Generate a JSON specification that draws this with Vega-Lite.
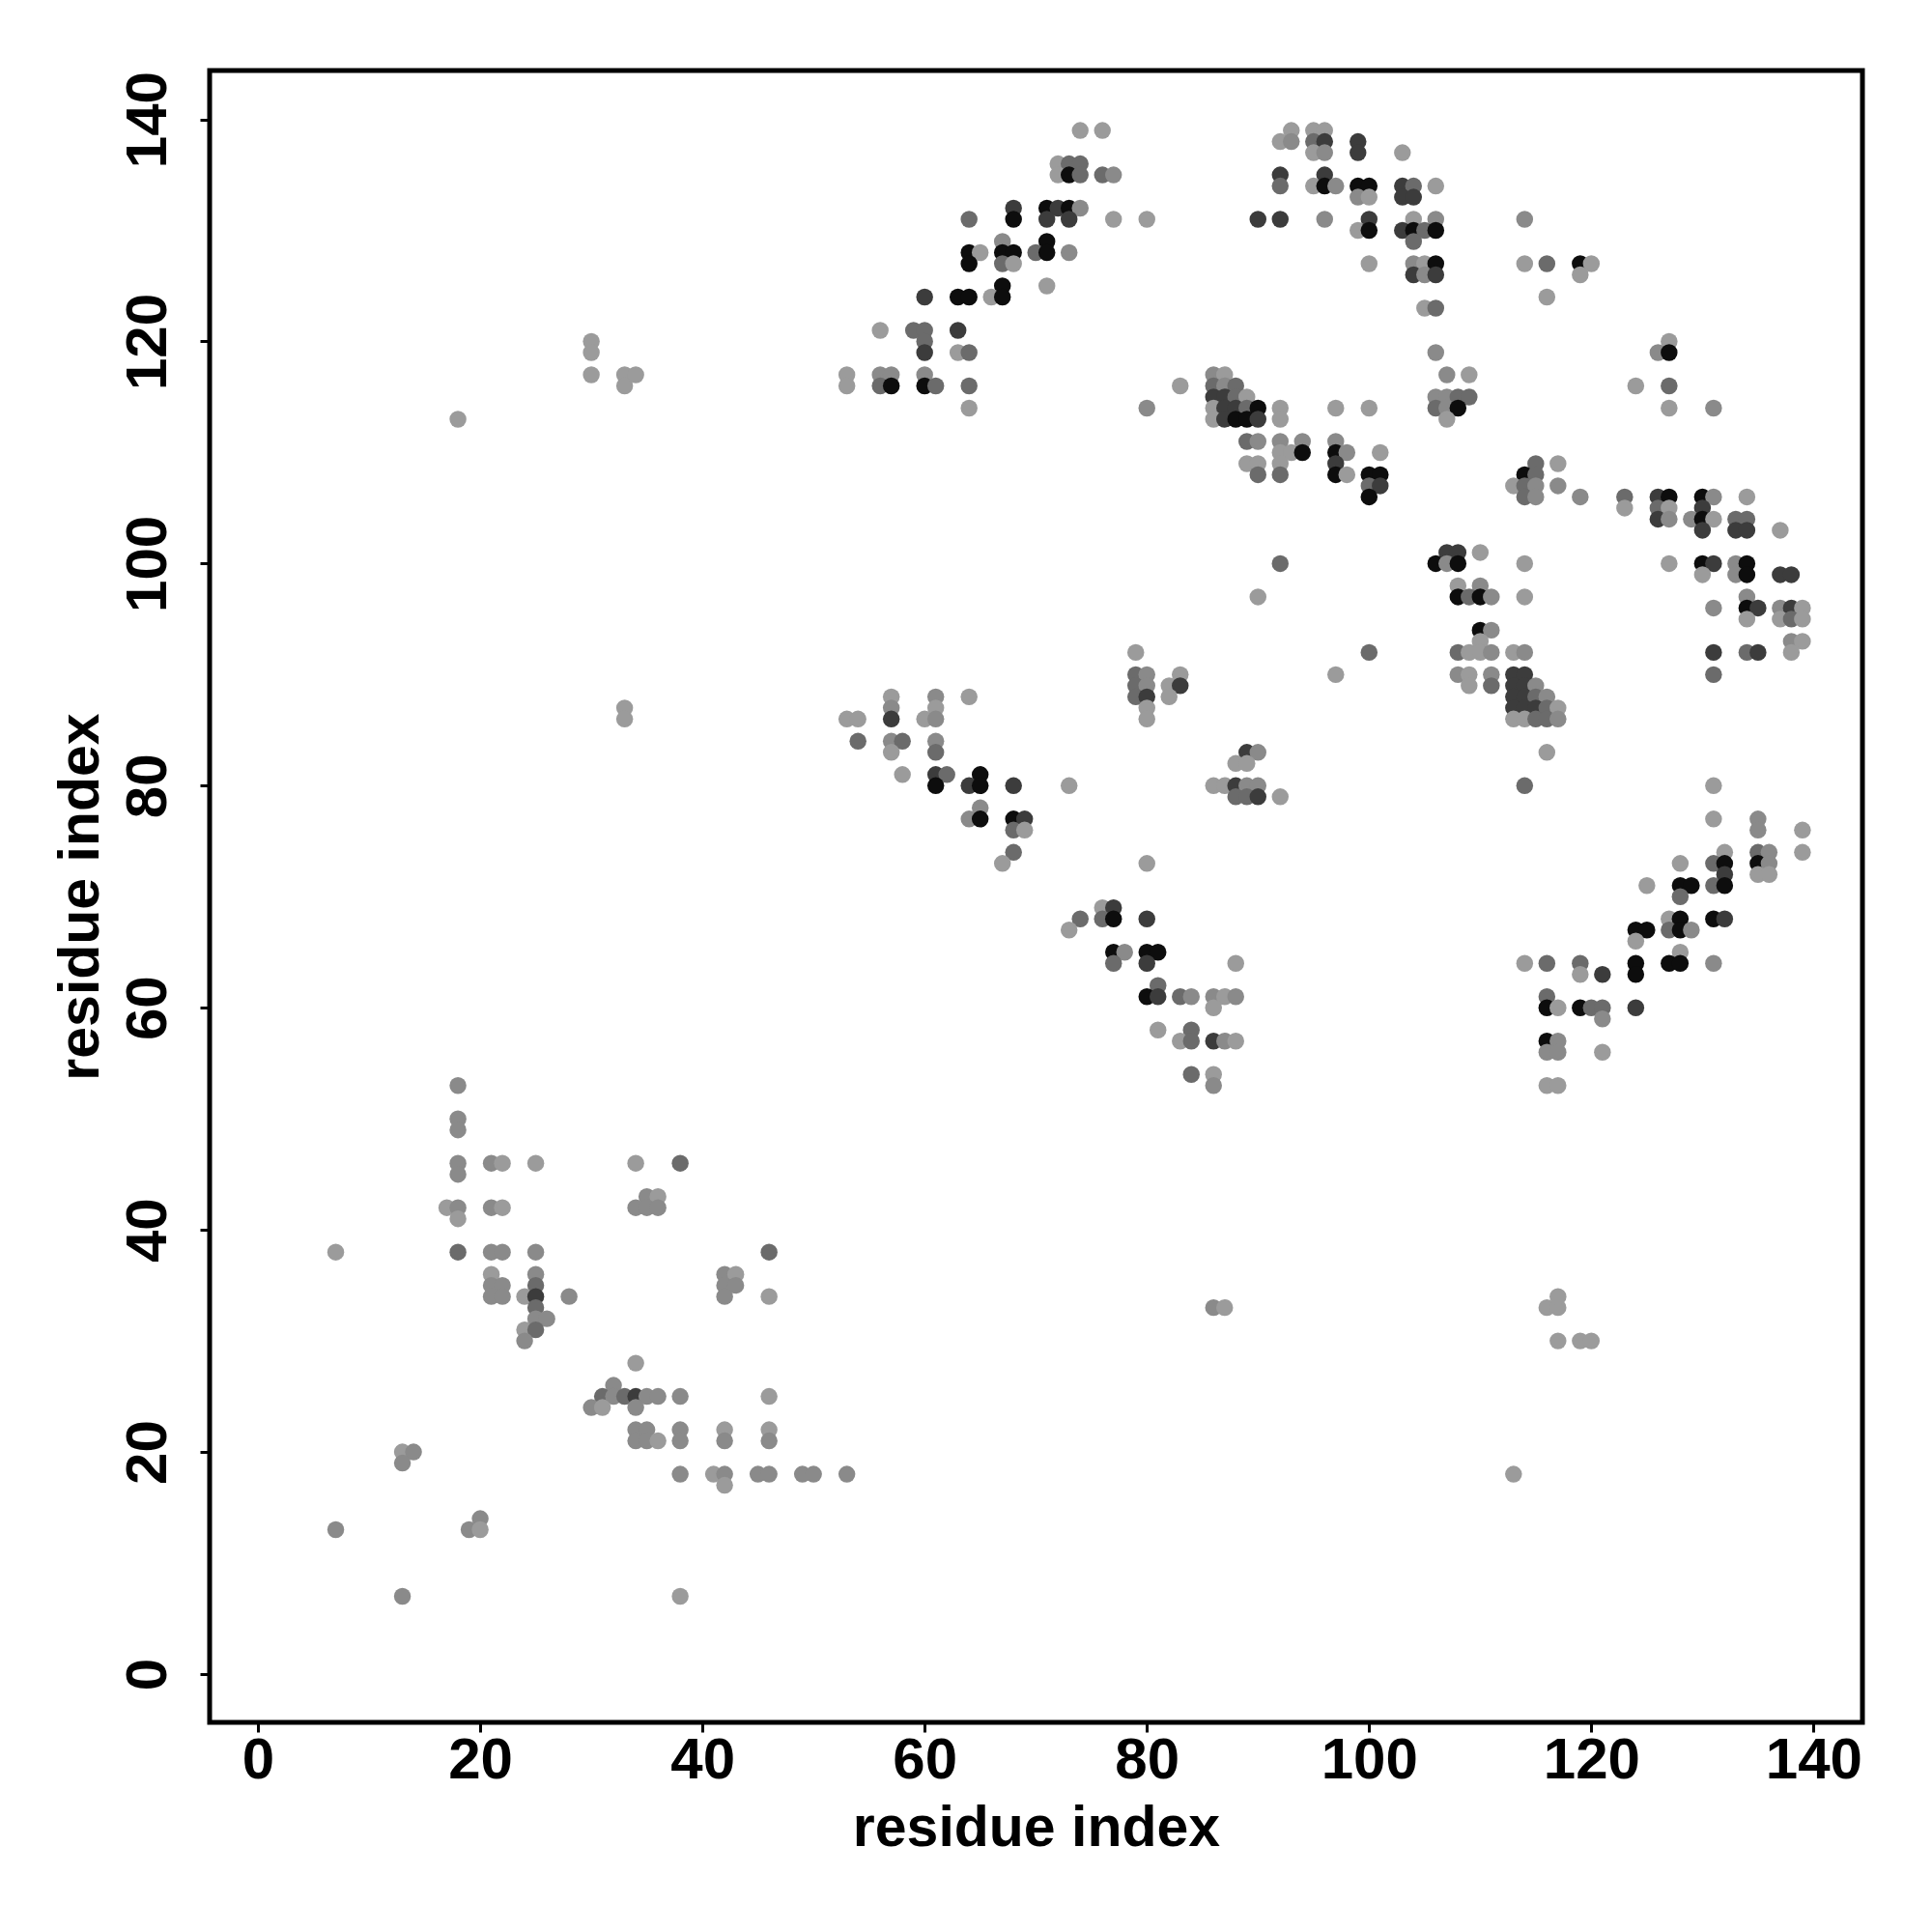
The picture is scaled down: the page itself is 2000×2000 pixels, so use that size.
{
  "$schema": "https://vega.github.io/schema/vega-lite/v6.json",
  "width": 1711,
  "height": 1710,
  "autosize": {"type": "none"},
  "padding": {"left": 217, "top": 73, "right": 72, "bottom": 217},
  "background": "white",
  "config": {"view": {"stroke": "black", "strokeWidth": 5}},
  "data": {"values": [
    {"x":74,"y":139,"c":"L"},{"x":76,"y":139,"c":"L"},
    {"x":72,"y":136,"c":"L"},{"x":73,"y":136,"c":"M"},{"x":74,"y":136,"c":"M"},
    {"x":72,"y":135,"c":"L"},{"x":73,"y":135,"c":"K"},{"x":74,"y":135,"c":"M"},{"x":76,"y":135,"c":"M"},{"x":77,"y":135,"c":"G"},
    {"x":68,"y":132,"c":"D"},{"x":71,"y":132,"c":"K"},{"x":72,"y":132,"c":"D"},{"x":73,"y":132,"c":"K"},{"x":74,"y":132,"c":"G"},
    {"x":64,"y":131,"c":"M"},{"x":68,"y":131,"c":"K"},{"x":71,"y":131,"c":"D"},{"x":73,"y":131,"c":"D"},{"x":77,"y":131,"c":"L"},{"x":80,"y":131,"c":"L"},
    {"x":67,"y":129,"c":"G"},{"x":71,"y":129,"c":"K"},
    {"x":64,"y":128,"c":"K"},{"x":65,"y":128,"c":"L"},{"x":67,"y":128,"c":"K"},{"x":68,"y":128,"c":"K"},{"x":70,"y":128,"c":"M"},{"x":71,"y":128,"c":"K"},{"x":73,"y":128,"c":"G"},
    {"x":64,"y":127,"c":"K"},{"x":67,"y":127,"c":"M"},{"x":68,"y":127,"c":"L"},
    {"x":67,"y":125,"c":"K"},{"x":71,"y":125,"c":"L"},
    {"x":60,"y":124,"c":"D"},{"x":63,"y":124,"c":"K"},{"x":64,"y":124,"c":"K"},{"x":66,"y":124,"c":"L"},{"x":67,"y":124,"c":"K"},
    {"x":56,"y":121,"c":"L"},{"x":59,"y":121,"c":"M"},{"x":60,"y":121,"c":"M"},{"x":63,"y":121,"c":"D"},
    {"x":60,"y":120,"c":"M"},
    {"x":60,"y":119,"c":"D"},{"x":63,"y":119,"c":"L"},{"x":64,"y":119,"c":"M"},
    {"x":53,"y":117,"c":"L"},{"x":56,"y":117,"c":"G"},{"x":57,"y":117,"c":"G"},{"x":60,"y":117,"c":"G"},
    {"x":53,"y":116,"c":"L"},{"x":56,"y":116,"c":"M"},{"x":57,"y":116,"c":"K"},{"x":60,"y":116,"c":"K"},{"x":61,"y":116,"c":"M"},{"x":64,"y":116,"c":"M"},{"x":83,"y":116,"c":"L"},
    {"x":64,"y":114,"c":"L"},{"x":80,"y":114,"c":"G"},
    {"x":93,"y":139,"c":"L"},{"x":95,"y":139,"c":"L"},{"x":96,"y":139,"c":"L"},
    {"x":92,"y":138,"c":"L"},{"x":93,"y":138,"c":"G"},{"x":95,"y":138,"c":"M"},{"x":96,"y":138,"c":"D"},{"x":99,"y":138,"c":"D"},
    {"x":95,"y":137,"c":"L"},{"x":96,"y":137,"c":"G"},{"x":99,"y":137,"c":"D"},{"x":103,"y":137,"c":"L"},
    {"x":92,"y":135,"c":"D"},{"x":96,"y":135,"c":"D"},
    {"x":92,"y":134,"c":"M"},{"x":95,"y":134,"c":"L"},{"x":96,"y":134,"c":"K"},{"x":97,"y":134,"c":"G"},{"x":99,"y":134,"c":"K"},{"x":100,"y":134,"c":"K"},{"x":103,"y":134,"c":"D"},{"x":104,"y":134,"c":"M"},{"x":106,"y":134,"c":"L"},
    {"x":99,"y":133,"c":"G"},{"x":100,"y":133,"c":"L"},{"x":103,"y":133,"c":"D"},{"x":104,"y":133,"c":"D"},
    {"x":90,"y":131,"c":"D"},{"x":92,"y":131,"c":"D"},{"x":96,"y":131,"c":"G"},{"x":100,"y":131,"c":"D"},{"x":104,"y":131,"c":"L"},{"x":106,"y":131,"c":"G"},
    {"x":99,"y":130,"c":"L"},{"x":100,"y":130,"c":"K"},{"x":103,"y":130,"c":"D"},{"x":104,"y":130,"c":"K"},{"x":105,"y":130,"c":"M"},{"x":106,"y":130,"c":"K"},
    {"x":104,"y":129,"c":"M"},
    {"x":100,"y":127,"c":"L"},{"x":104,"y":127,"c":"G"},{"x":105,"y":127,"c":"L"},{"x":106,"y":127,"c":"K"},
    {"x":104,"y":126,"c":"D"},{"x":105,"y":126,"c":"G"},{"x":106,"y":126,"c":"D"},
    {"x":105,"y":123,"c":"L"},{"x":106,"y":123,"c":"M"},
    {"x":106,"y":119,"c":"G"},
    {"x":107,"y":117,"c":"G"},{"x":109,"y":117,"c":"L"},
    {"x":106,"y":115,"c":"G"},{"x":107,"y":115,"c":"G"},{"x":108,"y":115,"c":"M"},{"x":109,"y":115,"c":"M"},
    {"x":106,"y":114,"c":"M"},{"x":107,"y":114,"c":"G"},{"x":108,"y":114,"c":"K"},
    {"x":107,"y":113,"c":"L"},
    {"x":86,"y":117,"c":"G"},{"x":87,"y":117,"c":"L"},
    {"x":86,"y":116,"c":"M"},{"x":87,"y":116,"c":"G"},{"x":88,"y":116,"c":"M"},
    {"x":86,"y":115,"c":"D"},{"x":87,"y":115,"c":"D"},{"x":88,"y":115,"c":"M"},{"x":89,"y":115,"c":"L"},
    {"x":86,"y":114,"c":"L"},{"x":87,"y":114,"c":"D"},{"x":88,"y":114,"c":"D"},{"x":89,"y":114,"c":"M"},{"x":90,"y":114,"c":"K"},{"x":92,"y":114,"c":"L"},{"x":97,"y":114,"c":"L"},{"x":100,"y":114,"c":"L"},
    {"x":86,"y":113,"c":"L"},{"x":87,"y":113,"c":"D"},{"x":88,"y":113,"c":"K"},{"x":89,"y":113,"c":"K"},{"x":90,"y":113,"c":"D"},{"x":92,"y":113,"c":"L"},
    {"x":89,"y":111,"c":"M"},{"x":90,"y":111,"c":"G"},{"x":92,"y":111,"c":"G"},{"x":94,"y":111,"c":"G"},{"x":97,"y":111,"c":"G"},
    {"x":92,"y":110,"c":"L"},{"x":93,"y":110,"c":"L"},{"x":94,"y":110,"c":"K"},{"x":97,"y":110,"c":"K"},{"x":98,"y":110,"c":"G"},{"x":101,"y":110,"c":"L"},
    {"x":89,"y":109,"c":"L"},{"x":90,"y":109,"c":"L"},{"x":92,"y":109,"c":"L"},{"x":97,"y":109,"c":"D"},
    {"x":90,"y":108,"c":"M"},{"x":92,"y":108,"c":"M"},{"x":97,"y":108,"c":"K"},{"x":98,"y":108,"c":"L"},{"x":100,"y":108,"c":"K"},{"x":101,"y":108,"c":"K"},
    {"x":100,"y":107,"c":"M"},{"x":101,"y":107,"c":"D"},
    {"x":100,"y":106,"c":"K"},
    {"x":114,"y":131,"c":"G"},
    {"x":114,"y":127,"c":"L"},{"x":116,"y":127,"c":"M"},{"x":119,"y":127,"c":"K"},{"x":120,"y":127,"c":"L"},
    {"x":119,"y":126,"c":"L"},
    {"x":116,"y":124,"c":"L"},
    {"x":127,"y":120,"c":"L"},
    {"x":126,"y":119,"c":"G"},{"x":127,"y":119,"c":"K"},
    {"x":124,"y":116,"c":"L"},{"x":127,"y":116,"c":"M"},
    {"x":127,"y":114,"c":"L"},{"x":131,"y":114,"c":"G"},
    {"x":115,"y":109,"c":"M"},{"x":117,"y":109,"c":"L"},
    {"x":114,"y":108,"c":"K"},{"x":115,"y":108,"c":"M"},
    {"x":113,"y":107,"c":"L"},{"x":114,"y":107,"c":"M"},{"x":115,"y":107,"c":"G"},{"x":117,"y":107,"c":"G"},
    {"x":114,"y":106,"c":"M"},{"x":115,"y":106,"c":"G"},{"x":119,"y":106,"c":"G"},{"x":123,"y":106,"c":"M"},{"x":126,"y":106,"c":"D"},{"x":127,"y":106,"c":"K"},{"x":130,"y":106,"c":"K"},{"x":131,"y":106,"c":"G"},{"x":134,"y":106,"c":"L"},
    {"x":123,"y":105,"c":"L"},{"x":126,"y":105,"c":"M"},{"x":127,"y":105,"c":"L"},{"x":130,"y":105,"c":"D"},
    {"x":126,"y":104,"c":"D"},{"x":127,"y":104,"c":"G"},{"x":129,"y":104,"c":"G"},{"x":130,"y":104,"c":"K"},{"x":131,"y":104,"c":"L"},{"x":133,"y":104,"c":"M"},{"x":134,"y":104,"c":"M"},
    {"x":130,"y":103,"c":"D"},{"x":133,"y":103,"c":"D"},{"x":134,"y":103,"c":"D"},{"x":137,"y":103,"c":"L"},
    {"x":107,"y":101,"c":"D"},{"x":108,"y":101,"c":"D"},{"x":110,"y":101,"c":"L"},
    {"x":92,"y":100,"c":"M"},{"x":106,"y":100,"c":"K"},{"x":107,"y":100,"c":"G"},{"x":108,"y":100,"c":"K"},{"x":114,"y":100,"c":"L"},{"x":127,"y":100,"c":"L"},{"x":130,"y":100,"c":"K"},{"x":131,"y":100,"c":"D"},{"x":133,"y":100,"c":"G"},{"x":134,"y":100,"c":"K"},
    {"x":130,"y":99,"c":"L"},{"x":133,"y":99,"c":"G"},{"x":134,"y":99,"c":"K"},{"x":137,"y":99,"c":"D"},{"x":138,"y":99,"c":"D"},
    {"x":108,"y":98,"c":"L"},{"x":110,"y":98,"c":"G"},
    {"x":90,"y":97,"c":"L"},{"x":108,"y":97,"c":"K"},{"x":109,"y":97,"c":"M"},{"x":110,"y":97,"c":"K"},{"x":111,"y":97,"c":"G"},{"x":114,"y":97,"c":"L"},{"x":134,"y":97,"c":"G"},
    {"x":131,"y":96,"c":"G"},{"x":134,"y":96,"c":"K"},{"x":135,"y":96,"c":"D"},{"x":137,"y":96,"c":"G"},{"x":138,"y":96,"c":"D"},{"x":139,"y":96,"c":"L"},
    {"x":134,"y":95,"c":"L"},{"x":137,"y":95,"c":"L"},{"x":138,"y":95,"c":"M"},{"x":139,"y":95,"c":"L"},
    {"x":110,"y":94,"c":"K"},{"x":111,"y":94,"c":"G"},
    {"x":110,"y":93,"c":"L"},{"x":138,"y":93,"c":"G"},{"x":139,"y":93,"c":"L"},
    {"x":100,"y":92,"c":"M"},{"x":108,"y":92,"c":"M"},{"x":109,"y":92,"c":"L"},{"x":110,"y":92,"c":"L"},{"x":111,"y":92,"c":"G"},{"x":113,"y":92,"c":"L"},{"x":114,"y":92,"c":"G"},{"x":131,"y":92,"c":"D"},{"x":134,"y":92,"c":"M"},{"x":135,"y":92,"c":"D"},{"x":138,"y":92,"c":"L"},
    {"x":97,"y":90,"c":"L"},{"x":108,"y":90,"c":"G"},{"x":109,"y":90,"c":"L"},{"x":111,"y":90,"c":"G"},{"x":113,"y":90,"c":"D"},{"x":114,"y":90,"c":"D"},{"x":131,"y":90,"c":"M"},
    {"x":109,"y":89,"c":"L"},{"x":111,"y":89,"c":"M"},{"x":113,"y":89,"c":"D"},{"x":114,"y":89,"c":"D"},{"x":115,"y":89,"c":"G"},
    {"x":113,"y":88,"c":"D"},{"x":114,"y":88,"c":"D"},{"x":115,"y":88,"c":"M"},{"x":116,"y":88,"c":"G"},
    {"x":113,"y":87,"c":"D"},{"x":114,"y":87,"c":"D"},{"x":115,"y":87,"c":"D"},{"x":116,"y":87,"c":"M"},{"x":117,"y":87,"c":"L"},
    {"x":113,"y":86,"c":"L"},{"x":114,"y":86,"c":"L"},{"x":115,"y":86,"c":"M"},{"x":116,"y":86,"c":"M"},{"x":117,"y":86,"c":"G"},
    {"x":79,"y":92,"c":"L"},
    {"x":79,"y":90,"c":"M"},{"x":80,"y":90,"c":"G"},{"x":83,"y":90,"c":"L"},
    {"x":79,"y":89,"c":"M"},{"x":80,"y":89,"c":"G"},{"x":82,"y":89,"c":"L"},{"x":83,"y":89,"c":"D"},
    {"x":57,"y":88,"c":"L"},{"x":61,"y":88,"c":"G"},{"x":64,"y":88,"c":"L"},{"x":79,"y":88,"c":"M"},{"x":80,"y":88,"c":"D"},{"x":82,"y":88,"c":"L"},
    {"x":57,"y":87,"c":"G"},{"x":61,"y":87,"c":"L"},{"x":80,"y":87,"c":"L"},
    {"x":53,"y":86,"c":"L"},{"x":54,"y":86,"c":"L"},{"x":57,"y":86,"c":"D"},{"x":60,"y":86,"c":"L"},{"x":61,"y":86,"c":"G"},{"x":80,"y":86,"c":"L"},
    {"x":54,"y":84,"c":"M"},{"x":57,"y":84,"c":"G"},{"x":58,"y":84,"c":"M"},{"x":61,"y":84,"c":"G"},
    {"x":57,"y":83,"c":"L"},{"x":61,"y":83,"c":"M"},
    {"x":58,"y":81,"c":"L"},{"x":61,"y":81,"c":"D"},{"x":62,"y":81,"c":"M"},{"x":65,"y":81,"c":"K"},
    {"x":61,"y":80,"c":"K"},{"x":64,"y":80,"c":"D"},{"x":65,"y":80,"c":"K"},{"x":68,"y":80,"c":"D"},{"x":73,"y":80,"c":"L"},
    {"x":65,"y":78,"c":"G"},
    {"x":64,"y":77,"c":"G"},{"x":65,"y":77,"c":"K"},{"x":68,"y":77,"c":"K"},{"x":69,"y":77,"c":"D"},
    {"x":68,"y":76,"c":"M"},{"x":69,"y":76,"c":"L"},
    {"x":68,"y":74,"c":"M"},
    {"x":67,"y":73,"c":"L"},{"x":80,"y":73,"c":"L"},
    {"x":89,"y":83,"c":"D"},{"x":90,"y":83,"c":"G"},
    {"x":88,"y":82,"c":"L"},{"x":89,"y":82,"c":"L"},
    {"x":86,"y":80,"c":"L"},{"x":87,"y":80,"c":"L"},{"x":88,"y":80,"c":"D"},{"x":89,"y":80,"c":"G"},{"x":90,"y":80,"c":"G"},
    {"x":88,"y":79,"c":"M"},{"x":89,"y":79,"c":"M"},{"x":90,"y":79,"c":"D"},{"x":92,"y":79,"c":"L"},
    {"x":76,"y":69,"c":"L"},{"x":77,"y":69,"c":"D"},
    {"x":74,"y":68,"c":"M"},{"x":76,"y":68,"c":"M"},{"x":77,"y":68,"c":"K"},{"x":80,"y":68,"c":"D"},
    {"x":73,"y":67,"c":"L"},
    {"x":77,"y":65,"c":"K"},{"x":78,"y":65,"c":"G"},{"x":80,"y":65,"c":"K"},{"x":81,"y":65,"c":"K"},
    {"x":77,"y":64,"c":"M"},{"x":80,"y":64,"c":"D"},{"x":88,"y":64,"c":"L"},
    {"x":81,"y":62,"c":"M"},
    {"x":80,"y":61,"c":"K"},{"x":81,"y":61,"c":"D"},{"x":83,"y":61,"c":"M"},{"x":84,"y":61,"c":"G"},{"x":86,"y":61,"c":"G"},{"x":87,"y":61,"c":"L"},{"x":88,"y":61,"c":"G"},
    {"x":86,"y":60,"c":"L"},
    {"x":81,"y":58,"c":"L"},{"x":84,"y":58,"c":"M"},
    {"x":83,"y":57,"c":"L"},{"x":84,"y":57,"c":"M"},{"x":86,"y":57,"c":"D"},{"x":87,"y":57,"c":"G"},{"x":88,"y":57,"c":"L"},
    {"x":84,"y":54,"c":"M"},{"x":86,"y":54,"c":"L"},
    {"x":86,"y":53,"c":"G"},
    {"x":116,"y":83,"c":"L"},
    {"x":114,"y":80,"c":"M"},{"x":131,"y":80,"c":"L"},
    {"x":131,"y":77,"c":"L"},{"x":135,"y":77,"c":"G"},
    {"x":135,"y":76,"c":"G"},{"x":139,"y":76,"c":"L"},
    {"x":132,"y":74,"c":"L"},{"x":135,"y":74,"c":"M"},{"x":136,"y":74,"c":"G"},{"x":139,"y":74,"c":"L"},
    {"x":128,"y":73,"c":"L"},{"x":131,"y":73,"c":"M"},{"x":132,"y":73,"c":"K"},{"x":135,"y":73,"c":"K"},{"x":136,"y":73,"c":"G"},
    {"x":132,"y":72,"c":"D"},{"x":135,"y":72,"c":"L"},{"x":136,"y":72,"c":"L"},
    {"x":125,"y":71,"c":"L"},{"x":128,"y":71,"c":"K"},{"x":129,"y":71,"c":"K"},{"x":131,"y":71,"c":"M"},{"x":132,"y":71,"c":"K"},
    {"x":128,"y":70,"c":"M"},
    {"x":127,"y":68,"c":"L"},{"x":128,"y":68,"c":"K"},{"x":131,"y":68,"c":"K"},{"x":132,"y":68,"c":"D"},
    {"x":124,"y":67,"c":"K"},{"x":125,"y":67,"c":"K"},{"x":127,"y":67,"c":"M"},{"x":128,"y":67,"c":"K"},{"x":129,"y":67,"c":"G"},
    {"x":124,"y":66,"c":"L"},
    {"x":128,"y":65,"c":"L"},
    {"x":114,"y":64,"c":"L"},{"x":116,"y":64,"c":"M"},{"x":119,"y":64,"c":"M"},{"x":124,"y":64,"c":"K"},{"x":127,"y":64,"c":"K"},{"x":128,"y":64,"c":"K"},{"x":131,"y":64,"c":"G"},
    {"x":119,"y":63,"c":"L"},{"x":121,"y":63,"c":"D"},{"x":124,"y":63,"c":"K"},
    {"x":116,"y":61,"c":"M"},
    {"x":116,"y":60,"c":"K"},{"x":117,"y":60,"c":"L"},{"x":119,"y":60,"c":"K"},{"x":120,"y":60,"c":"M"},{"x":121,"y":60,"c":"M"},{"x":124,"y":60,"c":"D"},
    {"x":121,"y":59,"c":"G"},
    {"x":116,"y":57,"c":"K"},{"x":117,"y":57,"c":"G"},
    {"x":116,"y":56,"c":"G"},{"x":117,"y":56,"c":"G"},{"x":121,"y":56,"c":"L"},
    {"x":116,"y":53,"c":"L"},{"x":117,"y":53,"c":"L"},
    {"x":18,"y":53,"c":"G"},{"x":18,"y":50,"c":"G"},{"x":18,"y":49,"c":"G"},
    {"x":18,"y":46,"c":"G"},{"x":21,"y":46,"c":"G"},{"x":22,"y":46,"c":"L"},{"x":25,"y":46,"c":"L"},{"x":34,"y":46,"c":"L"},{"x":38,"y":46,"c":"M"},
    {"x":18,"y":45,"c":"G"},
    {"x":35,"y":43,"c":"G"},{"x":36,"y":43,"c":"L"},
    {"x":17,"y":42,"c":"L"},{"x":18,"y":42,"c":"G"},{"x":21,"y":42,"c":"G"},{"x":22,"y":42,"c":"L"},{"x":34,"y":42,"c":"G"},{"x":35,"y":42,"c":"G"},{"x":36,"y":42,"c":"G"},
    {"x":18,"y":41,"c":"L"},
    {"x":7,"y":38,"c":"L"},{"x":18,"y":38,"c":"M"},{"x":21,"y":38,"c":"G"},{"x":22,"y":38,"c":"G"},{"x":25,"y":38,"c":"G"},{"x":46,"y":38,"c":"M"},
    {"x":21,"y":36,"c":"L"},{"x":25,"y":36,"c":"G"},{"x":42,"y":36,"c":"G"},{"x":43,"y":36,"c":"L"},
    {"x":21,"y":35,"c":"G"},{"x":22,"y":35,"c":"G"},{"x":25,"y":35,"c":"M"},{"x":42,"y":35,"c":"G"},{"x":43,"y":35,"c":"G"},
    {"x":21,"y":34,"c":"G"},{"x":22,"y":34,"c":"G"},{"x":24,"y":34,"c":"L"},{"x":25,"y":34,"c":"D"},{"x":28,"y":34,"c":"G"},{"x":42,"y":34,"c":"G"},{"x":46,"y":34,"c":"L"},
    {"x":25,"y":33,"c":"M"},
    {"x":25,"y":32,"c":"G"},{"x":26,"y":32,"c":"G"},
    {"x":24,"y":31,"c":"L"},{"x":25,"y":31,"c":"M"},
    {"x":24,"y":30,"c":"G"},
    {"x":34,"y":28,"c":"L"},
    {"x":32,"y":26,"c":"G"},
    {"x":31,"y":25,"c":"M"},{"x":32,"y":25,"c":"G"},{"x":33,"y":25,"c":"M"},{"x":34,"y":25,"c":"D"},{"x":35,"y":25,"c":"G"},{"x":36,"y":25,"c":"G"},{"x":38,"y":25,"c":"G"},{"x":46,"y":25,"c":"L"},
    {"x":30,"y":24,"c":"G"},{"x":31,"y":24,"c":"L"},{"x":34,"y":24,"c":"G"},
    {"x":34,"y":22,"c":"G"},{"x":35,"y":22,"c":"G"},{"x":38,"y":22,"c":"G"},{"x":42,"y":22,"c":"L"},{"x":46,"y":22,"c":"L"},
    {"x":34,"y":21,"c":"G"},{"x":35,"y":21,"c":"G"},{"x":36,"y":21,"c":"L"},{"x":38,"y":21,"c":"G"},{"x":42,"y":21,"c":"G"},{"x":46,"y":21,"c":"G"},
    {"x":13,"y":20,"c":"L"},{"x":14,"y":20,"c":"G"},
    {"x":13,"y":19,"c":"G"},
    {"x":38,"y":18,"c":"G"},{"x":41,"y":18,"c":"L"},{"x":42,"y":18,"c":"G"},{"x":45,"y":18,"c":"G"},{"x":46,"y":18,"c":"G"},{"x":49,"y":18,"c":"G"},{"x":50,"y":18,"c":"G"},{"x":53,"y":18,"c":"G"},
    {"x":42,"y":17,"c":"L"},
    {"x":20,"y":14,"c":"G"},
    {"x":7,"y":13,"c":"G"},{"x":19,"y":13,"c":"G"},{"x":20,"y":13,"c":"L"},
    {"x":13,"y":7,"c":"G"},{"x":38,"y":7,"c":"L"},
    {"x":86,"y":33,"c":"G"},{"x":87,"y":33,"c":"L"},{"x":116,"y":33,"c":"L"},{"x":117,"y":33,"c":"L"},{"x":117,"y":34,"c":"L"},
    {"x":117,"y":30,"c":"L"},{"x":119,"y":30,"c":"L"},{"x":120,"y":30,"c":"L"},{"x":113,"y":18,"c":"L"},
    {"x":18,"y":113,"c":"L"},{"x":30,"y":120,"c":"L"},{"x":30,"y":119,"c":"L"},{"x":30,"y":117,"c":"L"},
    {"x":33,"y":117,"c":"L"},{"x":33,"y":116,"c":"L"},{"x":34,"y":117,"c":"L"},{"x":33,"y":87,"c":"L"},{"x":33,"y":86,"c":"L"}
  ]},
  "mark": {"type": "circle", "size": 305, "opacity": 1},
  "encoding": {
    "x": {"field": "x", "type": "quantitative",
      "scale": {"domain": [-4.35, 144.4], "nice": false, "zero": false},
      "axis": {"values": [0, 20, 40, 60, 80, 100, 120, 140], "title": "residue index",
        "grid": false, "domain": false, "tickSize": 10, "tickWidth": 3, "tickColor": "black",
        "labelFont": "Liberation Sans", "labelFontWeight": "bold", "labelFontSize": 60, "labelColor": "black",
        "labelPadding": 0, "labelBaseline": "top", "labelFlush": false, "labelOverlap": false,
        "titleFont": "Liberation Sans", "titleFontWeight": "bold", "titleFontSize": 59, "titleColor": "black",
        "titleBaseline": "alphabetic", "titleY": 127}},
    "y": {"field": "y", "type": "quantitative",
      "scale": {"domain": [-4.35, 144.4], "nice": false, "zero": false},
      "axis": {"values": [0, 20, 40, 60, 80, 100, 120, 140], "title": "residue index",
        "grid": false, "domain": false, "tickSize": 10, "tickWidth": 3, "tickColor": "black",
        "labelFont": "Liberation Sans", "labelFontWeight": "bold", "labelFontSize": 60, "labelColor": "black",
        "labelAngle": -90, "labelAlign": "center", "labelBaseline": "alphabetic", "labelPadding": 36,
        "labelFlush": false, "labelOverlap": false,
        "titleFont": "Liberation Sans", "titleFontWeight": "bold", "titleFontSize": 59, "titleColor": "black",
        "titleAngle": -90, "titleAlign": "center", "titleBaseline": "alphabetic", "titleX": -116, "titleY": 855}},
    "color": {"field": "c", "type": "nominal", "legend": null,
      "scale": {"domain": ["L", "G", "M", "D", "K"], "range": ["#9b9b9b", "#8a8a8a", "#6b6b6b", "#3c3c3c", "#0d0d0d"]}}
  }
}
